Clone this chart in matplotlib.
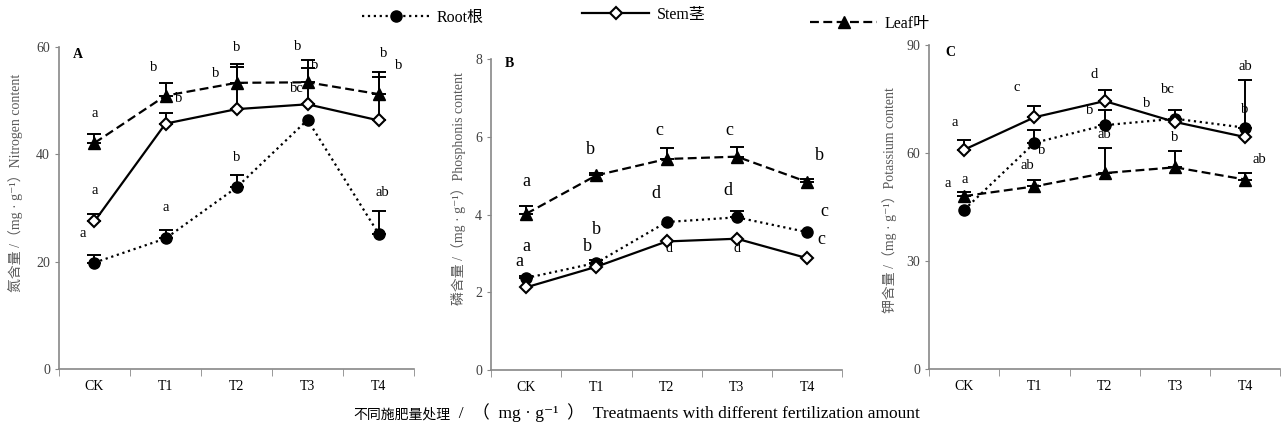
import matplotlib.pyplot as plt
from matplotlib.text import Annotation
import numpy as np

plt.rcParams['font.family'] = ['Liberation Serif', 'Noto Sans CJK SC', 'DejaVu Serif']

cats = ["CK", "T1", "T2", "T3", "T4"]

# Panel A - nitrogen
rootN = [19.8, 24.3, 33.8, 46.4, 25.2]
rootN_top = [21.2, 25.8, 36.1, 46.4, 29.5]
stemN = [27.5, 45.7, 48.4, 49.3, 46.3]
stemN_top = [28.8, 47.6, 56.3, 56.1, 54.3]
leafN = [42.1, 50.9, 53.3, 53.4, 51.2]
leafN_top = [43.8, 53.2, 56.8, 57.6, 55.3]
lettersA = [(0, 46.3, "a"), (0, 32.0, "a"), (-0.16, 24.1, "a"),
            (0.83, 55.0, "b"), (1.18, 49.1, "b"), (1.0, 28.8, "a"),
            (1.71, 53.8, "b"), (2.0, 58.6, "b"), (2.0, 38.1, "b"),
            (2.86, 58.8, "b"), (3.1, 55.3, "b"), (2.85, 51.0, "bc"),
            (4.07, 57.6, "b"), (4.29, 55.3, "b"), (4.05, 31.6, "ab")]

# Panel B - phosphorus
rootP = [2.37, 2.76, 3.81, 3.93, 3.55]
rootP_top = [2.43, 2.84, 3.81, 4.10, 3.55]
stemP = [2.13, 2.66, 3.31, 3.38, 2.88]
stemP_top = [2.13, 2.66, 3.31, 3.38, 2.88]
leafP = [4.02, 5.01, 5.43, 5.49, 4.84]
leafP_top = [4.23, 5.08, 5.70, 5.74, 4.92]
lettersB = [(0, 4.64, "a"), (0.92, 5.46, "b"), (1.89, 5.95, "c"),
            (2.89, 5.95, "c"), (4.17, 5.30, "b"), (1.84, 4.32, "d"),
            (2.87, 4.39, "d"), (4.24, 3.85, "c"), (4.2, 3.14, "c"),
            (0, 2.97, "a"), (1.0, 3.40, "b"), (0.87, 2.97, "b"),
            (-0.09, 2.57, "a")]
lettersB_small = [(2.03, 2.97, "d"), (3.0, 2.97, "d")]

# Panel C - potassium
rootK = [44.2, 62.8, 67.7, 69.5, 67.0]
rootK_top = [44.2, 66.4, 71.8, 71.9, 80.2]
stemK = [60.9, 69.9, 74.4, 68.6, 64.4]
stemK_top = [63.6, 72.9, 77.4, 68.6, 64.4]
leafK = [48.0, 50.7, 54.4, 56.0, 52.6]
leafK_top = [49.2, 52.4, 61.3, 60.6, 54.3]
lettersC = [(-0.14, 66.7, "a"), (0.75, 76.4, "c"), (1.85, 80.1, "d"),
            (2.9, 75.9, "bc"), (4.0, 82.2, "ab"), (1.78, 70.1, "b"),
            (2.6, 72.0, "b"), (3.99, 70.2, "b"), (1.1, 58.9, "b"),
            (2.0, 63.2, "ab"), (3.0, 62.5, "b"), (0.9, 54.7, "ab"),
            (4.2, 56.5, "ab"), (-0.24, 49.6, "a"), (0, 50.7, "a")]

series_names = ["Root根", "Stem茎", "Leaf叶"]

fig = plt.figure(figsize=(12.82, 4.34), dpi=100)
axA = fig.add_axes([0.046, 0.150, 0.277, 0.742])
axB = fig.add_axes([0.383, 0.147, 0.274, 0.717])
axC = fig.add_axes([0.7247, 0.150, 0.274, 0.7465])

x = np.arange(len(cats))


def draw(ax, root, root_top, stem, stem_top, leaf, leaf_top):
    for vals, top in [(root, root_top), (stem, stem_top), (leaf, leaf_top)]:
        vals = np.array(vals)
        err = np.array(top) - vals
        m = err > 0.001
        ax.errorbar(x[m], vals[m], yerr=[np.zeros(m.sum()), err[m]], fmt='none',
                    ecolor='black', elinewidth=1.4, capsize=5, capthick=1.4, zorder=2)
    l1, = ax.plot(x, root, ':', color='black', lw=1.6, marker='o', ms=8,
                  mfc='black', mec='black', zorder=3)
    l2, = ax.plot(x, stem, '-', color='black', lw=1.6, marker='D', ms=6,
                  mfc='white', mec='black', mew=1.5, zorder=3)
    l3, = ax.plot(x, leaf, '--', color='black', lw=1.6, marker='^', ms=8,
                  mfc='black', mec='black', zorder=3, dashes=(4, 2))
    return l1, l2, l3


def style(ax, ymax, yticks, label, lab_xy, tag, tag_xy):
    ax.set_xlim(-0.5, 4.5)
    ax.set_ylim(0, ymax)
    ax.set_yticks(yticks)
    ax.set_xticks(x)
    ax.set_xticklabels(cats, fontsize=10)
    ax.set_xticks(np.arange(-0.5, 5, 1), minor=True)
    ax.tick_params(axis='x', which='major', length=0, pad=8)
    ax.tick_params(axis='x', which='minor', length=5, direction='out', color='#888888')
    ax.tick_params(axis='y', length=3, direction='out', color='#888888',
                   labelsize=10, labelcolor='#404040')
    for s in ['top', 'right']:
        ax.spines[s].set_visible(False)
    for s in ['left', 'bottom']:
        ax.spines[s].set_color('#888888')
        ax.spines[s].set_linewidth(1.2)
    ax.set_ylabel(label, fontsize=10, color='#595959')
    ax.yaxis.set_label_coords(*lab_xy)
    ax.text(tag_xy[0], tag_xy[1], tag, transform=ax.transAxes, fontsize=10,
            fontweight='bold', va='center', ha='left')


handles = draw(axA, rootN, rootN_top, stemN, stemN_top, leafN, leafN_top)
draw(axB, rootP, rootP_top, stemP, stemP_top, leafP, leafP_top)
draw(axC, rootK, rootK_top, stemK, stemK_top, leafK, leafK_top)

style(axA, 60, [0, 20, 40, 60], "氮含量 /（mg · g⁻¹）Nitrogen content",
      (-0.1, 0.579), "A", (0.04, 0.975))
style(axB, 8, [0, 2, 4, 6, 8], "磷含量 /（mg · g⁻¹）Phosphonis content",
      (-0.072, 0.585), "B", (0.04, 0.987))
style(axC, 90, [0, 30, 60, 90], "钾含量 /（mg · g⁻¹）Potassium content",
      (-0.09, 0.52), "C", (0.046, 0.978))

for xx, yy, t in lettersA:
    axA.text(xx, yy, t, ha='center', va='bottom', fontsize=10.5)
for xx, yy, t in lettersB:
    axB.text(xx, yy, t, ha='center', va='bottom', fontsize=13)
for xx, yy, t in lettersB_small:
    axB.text(xx, yy, t, ha='center', va='bottom', fontsize=10)
for xx, yy, t in lettersC:
    axC.text(xx, yy, t, ha='center', va='bottom', fontsize=10.5)

# one legend per entry, placed like the reference header
leg_pos = [(362, 18), (582, 15), (810, 24)]
for h, name, (px, py) in zip(handles, series_names, leg_pos):
    fig.legend([h], [name], loc='center left',
               bbox_to_anchor=(px / 1282, 1 - py / 434), frameon=False,
               fontsize=11.5, handlelength=4.2, handletextpad=0.5,
               borderpad=0, borderaxespad=0)

# bottom label: CJK part a little smaller than the Latin part
t1 = fig.text(0.2753, 0.028, "不同施肥量处理", ha='left', va='bottom', fontsize=10)
fig.add_artist(Annotation("  /  （  mg · g⁻¹  ）  Treatmaents with different fertilization amount",
                          xy=(1, 0), xycoords=t1, ha='left', va='bottom', fontsize=12.5))

fig.savefig("out.png", dpi=100)
